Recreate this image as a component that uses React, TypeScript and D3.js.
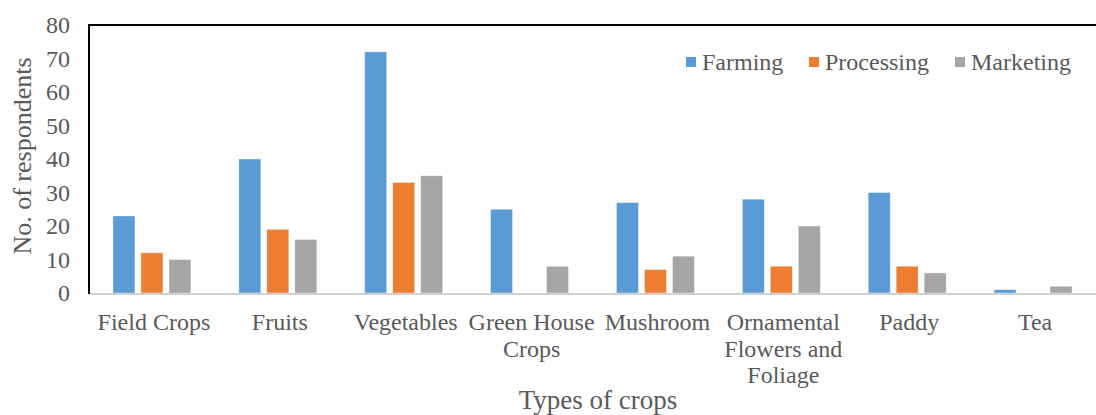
import { useRef, useEffect } from 'react'
import * as d3 from 'd3'

const categories = ['Field Crops', 'Fruits', 'Vegetables', 'Green House Crops', 'Mushroom', 'Ornamental Flowers and Foliage', 'Paddy', 'Tea']
const categoryLines = [['Field Crops'], ['Fruits'], ['Vegetables'], ['Green House', 'Crops'], ['Mushroom'], ['Ornamental', 'Flowers and', 'Foliage'], ['Paddy'], ['Tea']]
const seriesNames = ['Farming', 'Processing', 'Marketing']
const farming = [23, 40, 72, 25, 27, 28, 30, 1]
const processing = [12, 19, 33, 0, 7, 8, 8, 0]
const marketing = [10, 16, 35, 8, 11, 20, 6, 2]
const yTicks = [0, 10, 20, 30, 40, 50, 60, 70, 80]
const colors = ['#5b9bd5', '#ed7d31', '#a5a5a5']

const W = 1096
const H = 415
const FONT = 'Liberation Serif'

export default function App() {
  const svgRef = useRef<SVGSVGElement>(null)

  useEffect(() => {
    if (!svgRef.current) return
    const svg = d3.select(svgRef.current)
    svg.selectAll('*').remove()

    const margin = { top: 25, right: 0, bottom: 122, left: 89 }
    const innerW = W - margin.left - margin.right
    const innerH = H - margin.top - margin.bottom
    const series = [farming, processing, marketing]

    const x0 = d3.scaleBand().domain(categories).range([0, innerW])
    const x1 = d3.scaleBand().domain(seriesNames).range([0, x0.bandwidth()]).paddingInner(0.214).paddingOuter(0.855)
    const y = d3.scaleLinear().domain([0, 80]).range([innerH, 0])

    const g = svg.append('g').attr('transform', `translate(${margin.left},${margin.top})`)

    // bars
    categories.forEach((c, i) => {
      seriesNames.forEach((s, j) => {
        const v = series[j][i]
        if (v <= 0) return
        g.append('rect')
          .attr('x', (x0(c) ?? 0) + (x1(s) ?? 0))
          .attr('y', y(v))
          .attr('width', x1.bandwidth())
          .attr('height', innerH - y(v))
          .attr('fill', colors[j])
          .attr('stroke', '#ffffff')
          .attr('stroke-opacity', 0.5)
          .attr('stroke-width', 0.8)
      })
    })

    // axis lines
    g.append('line').attr('x1', 0).attr('x2', innerW).attr('y1', innerH + 1).attr('y2', innerH + 1)
      .attr('stroke', '#d0d0d0').attr('stroke-width', 2)
    g.append('line').attr('x1', 0).attr('x2', 0).attr('y1', 0).attr('y2', innerH + 1)
      .attr('stroke', '#000').attr('stroke-width', 2)
    g.append('line').attr('x1', -1).attr('x2', innerW).attr('y1', 0).attr('y2', 0)
      .attr('stroke', '#000').attr('stroke-width', 2)

    // y ticks
    g.selectAll('.ytick').data(yTicks).enter().append('text')
      .attr('x', -19).attr('y', (d) => y(d)).attr('dy', '0.35em')
      .attr('text-anchor', 'end').attr('fill', '#595959')
      .style('font-family', FONT).attr('font-size', 24)
      .text((d) => d)

    // x tick labels
    categories.forEach((c, i) => {
      const cx = (x0(c) ?? 0) + x0.bandwidth() / 2 + 2
      const t = g.append('text')
        .attr('x', cx)
        .attr('y', innerH + 37)
        .attr('text-anchor', 'middle').attr('fill', '#595959')
        .style('font-family', FONT).attr('font-size', 24)
      categoryLines[i].forEach((line, k) => {
        t.append('tspan').attr('x', cx).attr('dy', k === 0 ? 0 : 26.5).text(line)
      })
    })

    // axis titles
    svg.append('text')
      .attr('x', 598).attr('y', 409)
      .attr('text-anchor', 'middle').attr('fill', '#595959')
      .style('font-family', FONT).attr('font-size', 27)
      .text('Types of crops')
    svg.append('text')
      .attr('transform', `translate(31,${margin.top + innerH / 2 - 3}) rotate(-90)`)
      .attr('text-anchor', 'middle').attr('fill', '#595959')
      .style('font-family', FONT).attr('font-size', 26)
      .text('No. of respondents')

    // legend
    const legendX = [686, 809, 955]
    seriesNames.forEach((s, j) => {
      svg.append('rect').attr('x', legendX[j]).attr('y', 57).attr('width', 10).attr('height', 10).attr('fill', colors[j])
      svg.append('text')
        .attr('x', legendX[j] + 16).attr('y', 70)
        .attr('fill', '#595959').style('font-family', FONT).attr('font-size', 24)
        .text(s)
    })
  }, [])

  return (
    <svg
      ref={svgRef}
      width={W}
      height={H}
      style={{ position: 'absolute', left: 0, top: 0, background: '#fff' }}
    />
  )
}
